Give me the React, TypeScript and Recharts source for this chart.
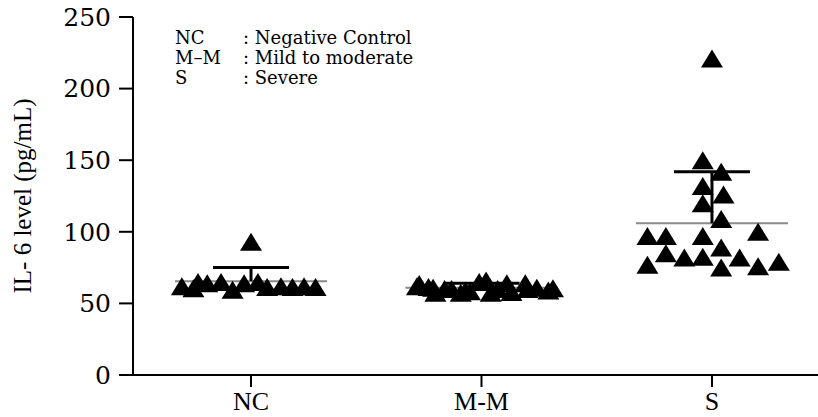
import React from 'react';
import { ScatterChart, Scatter, XAxis, YAxis, ZAxis, ReferenceLine } from 'recharts';

// group names and positions on the x axis
const groups = ['NC', 'M-M', 'S'];
const groupPos = [1, 2, 3];

// horizontal jitter (in category units) and IL-6 values per group
const ncJitter = [-0.3, -0.23, -0.19, -0.13, -0.08, -0.03, 0, 0.03, 0.07, 0.13, 0.18, 0.23, 0.28, -0.25];
const ncValues = [62, 65, 64, 65, 59.5, 64, 93, 65, 61.5, 62, 61.5, 62, 61.5, 60.5];

const mmJitter = [-0.27, -0.23, -0.21, -0.16, -0.01, 0.02, 0.11, 0.19, 0.24, 0.29, -0.28, -0.2, -0.09, 0.04, 0.13, 0.2, 0.31, -0.13, -0.07, -0.05, 0.07];
const mmValues = [63.5, 61.5, 61, 60, 65, 66, 64, 64, 61, 59, 62, 57.5, 57.5, 57.5, 58, 60, 60.5, 60, 59, 58.5, 60];

const sJitter = [0, -0.04, 0.04, -0.04, 0.05, -0.04, 0.04, -0.28, -0.2, -0.04, 0.2, -0.2, 0.04, -0.12, -0.04, 0.12, -0.28, 0.04, 0.2, 0.29];
const sValues = [221, 150, 142, 132, 126, 120, 109, 97, 97, 97, 100, 85, 89, 82, 82.5, 82, 77, 75, 76, 79];

// mean and SD
const means = [65.5, 61, 106];
const sds = [9.5, 3, 36];

const yTicks = [0, 50, 100, 150, 200, 250];

const legendRows = [
  ['NC', ': Negative Control'],
  ['M\u2013M', ': Mild to moderate'],
  ['S', ': Severe'],
];

const toPoints = (pos: number, jit: number[], vals: number[]) =>
  vals.map((v, i) => ({ x: pos + jit[i], y: v }));

const allPoints = [
  ...toPoints(groupPos[0], ncJitter, ncValues),
  ...toPoints(groupPos[1], mmJitter, mmValues),
  ...toPoints(groupPos[2], sJitter, sValues),
];

const Triangle = (props: any) => {
  const { cx, cy } = props;
  const w = 22;
  const h = 18;
  return (
    <path
      d={`M${cx},${cy - h / 2} L${cx + w / 2},${cy + h / 2} L${cx - w / 2},${cy + h / 2} Z`}
      fill="#000"
    />
  );
};

export default function App() {
  return (
    <div style={{ position: 'absolute', left: 0, top: 0, width: 818, height: 417, background: '#fff' }}>
      <ScatterChart width={818} height={417} margin={{ top: 17, right: 0, bottom: 0, left: 0 }}>
        <XAxis
          type="number"
          dataKey="x"
          domain={[0.488, 3.46]}
          ticks={groupPos}
          tickFormatter={(v: number) => groups[groupPos.indexOf(v)] ?? ''}
          height={42}
          stroke="#000"
          strokeWidth={2}
          tickSize={12}
          tickMargin={5}
          tick={{ fill: '#000', fontSize: 26, fontFamily: 'Liberation Serif' }}
          allowDataOverflow
        />
        <YAxis
          type="number"
          dataKey="y"
          domain={[0, 250]}
          ticks={yTicks}
          width={133}
          stroke="#000"
          strokeWidth={2}
          tickSize={14}
          tickMargin={8}
          tick={{ fill: '#000', fontSize: 25, fontFamily: 'DejaVu Serif' }}
          label={{
            value: 'IL- 6  level (pg/mL)',
            angle: -90,
            position: 'insideLeft',
            offset: 22,
            style: { fill: '#000', fontSize: 25, fontFamily: 'Liberation Serif', textAnchor: 'middle' },
          }}
        />
        <ZAxis range={[200, 200]} />
        {groupPos.map((p, i) => (
          <ReferenceLine
            key={`mean-${i}`}
            segment={[{ x: p - 0.33, y: means[i] }, { x: p + 0.33, y: means[i] }]}
            stroke="#8a8a8a"
            strokeWidth={2}
          />
        ))}
        <Scatter data={allPoints} shape={<Triangle />} isAnimationActive={false} />
        {groupPos.map((p, i) => (
          <ReferenceLine
            key={`sdv-${i}`}
            segment={[{ x: p, y: means[i] }, { x: p, y: means[i] + sds[i] }]}
            stroke="#000"
            strokeWidth={3}
          />
        ))}
        {groupPos.map((p, i) => (
          <ReferenceLine
            key={`sdh-${i}`}
            segment={[{ x: p - 0.165, y: means[i] + sds[i] }, { x: p + 0.165, y: means[i] + sds[i] }]}
            stroke="#000"
            strokeWidth={3}
          />
        ))}
      </ScatterChart>
      <div
        style={{
          position: 'absolute',
          left: 175,
          top: 28,
          fontFamily: 'DejaVu Serif',
          fontSize: 18,
          lineHeight: '20px',
          color: '#000',
        }}
      >
        {legendRows.map(([k, v]) => (
          <div key={k} style={{ display: 'flex' }}>
            <span style={{ width: 68 }}>{k}</span>
            <span>{v}</span>
          </div>
        ))}
      </div>
    </div>
  );
}
